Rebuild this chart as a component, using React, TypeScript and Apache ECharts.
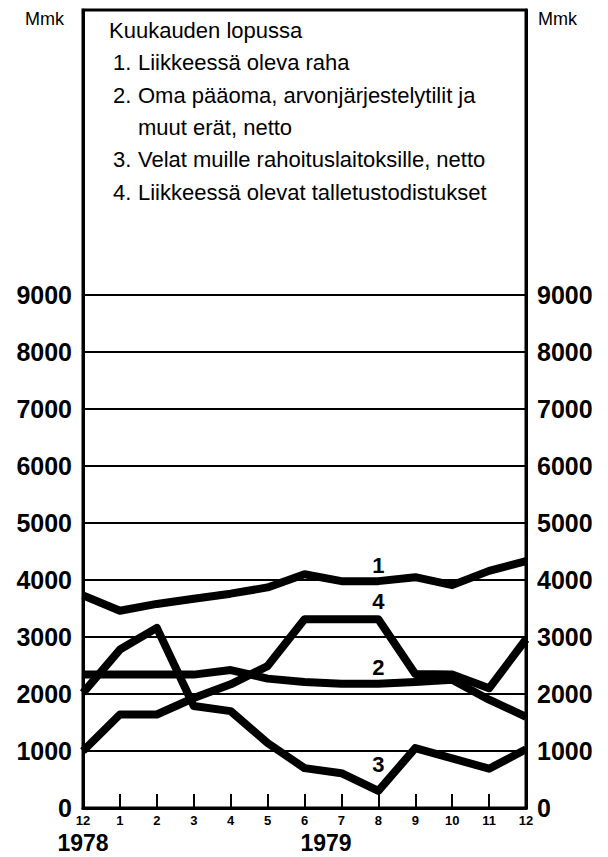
import React, { useEffect, useRef } from "react";
import * as echarts from "echarts";

const monthLabels = ["12", "1", "2", "3", "4", "5", "6", "7", "8", "9", "10", "11", "12"];
const yTicks = [0, 1000, 2000, 3000, 4000, 5000, 6000, 7000, 8000, 9000];
const gridValues = [1000, 2000, 3000, 4000, 5000, 6000, 7000, 8000, 9000];

// Mmk, end of month, Dec 1978 .. Dec 1979
const s1Currency = [3730, 3460, 3580, 3670, 3760, 3870, 4100, 3980, 3980, 4050, 3910, 4160, 4330];
const s2Equity = [2340, 2340, 2340, 2340, 2420, 2270, 2210, 2180, 2180, 2210, 2250, 1900, 1600];
const s3Debts = [2020, 2780, 3160, 1790, 1700, 1140, 700, 610, 300, 1050, 870, 690, 1030];
const s4Certificates = [1000, 1640, 1640, 1930, 2170, 2490, 3310, 3310, 3310, 2350, 2340, 2100, 2960];

const seriesLabels = ["1", "2", "3", "4"];
const seriesLabelPos = [
  [8, 4260],
  [8, 2460],
  [8, 760],
  [8, 3620],
];

const legendTitle = "Kuukauden lopussa";
const legendItems = [
  ["1.", "Liikkeessä oleva raha"],
  ["2.", "Oma pääoma, arvonjärjestelytilit ja"],
  ["", "muut erät, netto"],
  ["3.", "Velat muille rahoituslaitoksille, netto"],
  ["4.", "Liikkeessä olevat talletustodistukset"],
];
const unitLabel = "Mmk";
const years = ["1978", "1979"];

const FONT = "'Liberation Sans', Arial, Helvetica, sans-serif";

export default function App() {
  const ref = useRef<HTMLDivElement>(null);

  useEffect(() => {
    if (!ref.current) return;
    const chart = echarts.init(ref.current, undefined, { renderer: "svg" });

    const dataSets = [s1Currency, s2Equity, s3Debts, s4Certificates];

    const lineSeries = dataSets.map((arr, i) => ({
      type: "line",
      name: seriesLabels[i],
      data: arr.map((v, k) => [k, v]),
      symbol: "none",
      z: 5,
      lineStyle: { color: "#000", width: 8, join: "round", cap: "butt" },
      markPoint: {
        symbol: "circle",
        symbolSize: 1,
        itemStyle: { color: "rgba(0,0,0,0)" },
        silent: true,
        data: [
          {
            coord: seriesLabelPos[i],
            label: {
              show: true,
              position: "inside",
              formatter: seriesLabels[i],
              color: "#000",
              fontFamily: FONT,
              fontWeight: "bold",
              fontSize: 22,
            },
          },
        ],
      },
    }));

    const gridSeries = {
      type: "line",
      data: [],
      z: 2,
      silent: true,
      markLine: {
        symbol: "none",
        silent: true,
        label: { show: false },
        lineStyle: { color: "#000", width: 2, type: "solid" },
        data: gridValues.map((v) => ({ yAxis: v })),
      },
    };

    const legendFont = `22px ${FONT}`;
    const legendGraphics: any[] = [
      {
        type: "text",
        left: 109,
        top: 19,
        style: { text: legendTitle, font: legendFont, fill: "#000" },
      },
    ];
    const lineYs = [51, 84, 116, 148, 181];
    legendItems.forEach(([num, txt], i) => {
      if (num) {
        legendGraphics.push({
          type: "text",
          left: 113,
          top: lineYs[i],
          style: { text: num, font: legendFont, fill: "#000" },
        });
      }
      legendGraphics.push({
        type: "text",
        left: 138,
        top: lineYs[i],
        style: { text: txt, font: legendFont, fill: "#000" },
      });
    });

    const otherGraphics = [
      { type: "text", left: 25, top: 10, style: { text: unitLabel, font: `18px ${FONT}`, fill: "#000" } },
      { type: "text", left: 538, top: 10, style: { text: unitLabel, font: `18px ${FONT}`, fill: "#000" } },
      {
        type: "text",
        x: 83,
        y: 843,
        style: { text: years[0], font: `bold 23px ${FONT}`, fill: "#000", align: "center", verticalAlign: "middle" },
      },
      {
        type: "text",
        x: 326,
        y: 843,
        style: { text: years[1], font: `bold 23px ${FONT}`, fill: "#000", align: "center", verticalAlign: "middle" },
      },
    ];

    const yAxisCommon = {
      type: "value",
      min: 0,
      max: 14000,
      interval: 1000,
      axisLine: { show: true, lineStyle: { color: "#000", width: 3 } },
      axisTick: { show: false },
      splitLine: { show: false },
      axisLabel: {
        formatter: (v: number) => (yTicks.includes(v) ? String(v) : ""),
        color: "#000",
        fontFamily: FONT,
        fontWeight: "bold",
        fontSize: 25,
        margin: 11,
      },
    };

    chart.setOption({
      animation: false,
      backgroundColor: "#fff",
      grid: {
        left: 83,
        right: 82,
        top: 10,
        bottom: 49,
        show: true,
        borderColor: "#000",
        borderWidth: 3,
        backgroundColor: "rgba(0,0,0,0)",
      },
      xAxis: {
        type: "value",
        min: 0,
        max: 12,
        interval: 1,
        axisLine: { show: true, lineStyle: { color: "#000", width: 3 } },
        axisTick: { show: true, inside: true, length: 14, lineStyle: { color: "#000", width: 2 } },
        splitLine: { show: false },
        axisLabel: {
          formatter: (v: number) => monthLabels[v] ?? "",
          color: "#000",
          fontFamily: FONT,
          fontWeight: "bold",
          fontSize: 13,
          margin: 6,
        },
      },
      yAxis: [
        { ...yAxisCommon, position: "left" },
        { ...yAxisCommon, position: "right" },
      ],
      graphic: [...legendGraphics, ...otherGraphics],
      series: [gridSeries, ...lineSeries],
    });

    return () => chart.dispose();
  }, []);

  return (
    <div
      ref={ref}
      style={{ position: "absolute", left: 0, top: 0, width: 608, height: 857, background: "#fff" }}
    />
  );
}
